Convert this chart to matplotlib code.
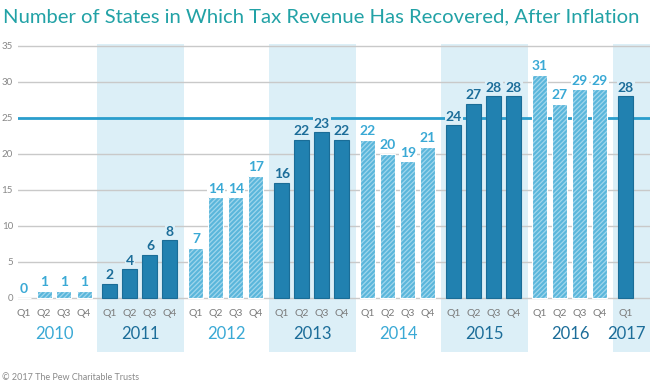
import matplotlib.pyplot as plt

# values
years = ['2010', '2011', '2012', '2013', '2014', '2015', '2016', '2017']
quarters = ['Q1', 'Q2', 'Q3', 'Q4']
values = [
    [0, 1, 1, 1],
    [2, 4, 6, 8],
    [7, 14, 14, 17],
    [16, 22, 23, 22],
    [22, 20, 19, 21],
    [24, 27, 28, 28],
    [31, 27, 29, 29],
    [28],
]
shaded = [False, True, False, True, False, True, False, True]
year_dark = [False, True, False, True, False, True, True, True]
threshold = 25

# colours
band_col = '#dceff7'
dark_bar = '#2181b0'
dark_edge = '#1a6d97'
light_bar = '#5ab6db'
hatch_col = '#9fd6ec'
dark_txt = '#1c6d99'
light_txt = '#3aa9d5'
grid_col = '#c9c9c9'
line_col = '#2a9ecd'

plt.rcParams['font.family'] = ['Lato', 'DejaVu Sans']
plt.rcParams['hatch.linewidth'] = 0.9

fig = plt.figure(figsize=(6.5, 3.84), dpi=100)
ax = fig.add_axes([18 / 650, 1 - 352 / 384, 632 / 650, 308 / 384])
ax.set_xlim(-0.3, 31.3)
ax.set_ylim(-7.5, 35.28)
ax.axis('off')

step = 4.3
for g, yr in enumerate(years):
    x0 = g * step
    if shaded[g]:
        ax.axvspan(x0 - 0.65, min(x0 + 3.7, 31.3), ymin=0, ymax=1,
                   color=band_col, lw=0, zorder=0)

# gridlines and threshold line
for v in range(0, 36, 5):
    ax.axhline(v, color=grid_col, lw=1, zorder=1)
    ax.text(-0.55, v, str(v), ha='right', va='center', fontsize=7,
            color='#888888', clip_on=False)
ax.axhline(threshold, color=line_col, lw=2, zorder=1.5)

for g, yr in enumerate(years):
    x0 = g * step
    dark = shaded[g]
    bg = band_col if shaded[g] else 'white'
    for q, val in enumerate(values[g]):
        x = x0 + q
        if dark:
            ax.bar(x, val, width=0.75, color=dark_bar, edgecolor=dark_edge,
                   lw=0.8, zorder=2)
        else:
            ax.bar(x, val, width=0.75, color=light_bar, edgecolor=hatch_col,
                   hatch='///////', lw=0, zorder=2)
            ax.bar(x, val, width=0.75, fill=False, edgecolor='white',
                   lw=0.8, zorder=2.1)
        ax.text(x, val + 0.35, str(val), ha='center', va='bottom',
                fontsize=10, fontweight='bold',
                color=dark_txt if dark else light_txt, zorder=3,
                bbox=dict(facecolor=bg, edgecolor='none', pad=0.5))
        ax.text(x, -2.1, quarters[q], ha='center', va='center',
                fontsize=7.5, color='#7a7a7a')
    xc = x0 + (len(values[g]) - 1) / 2
    ax.text(xc, -5.0, yr, ha='center', va='center', fontsize=12,
            color=dark_txt if year_dark[g] else light_txt)

fig.text(3 / 650, 1 - 17 / 384,
         'Number of States in Which Tax Revenue Has Recovered, After Inflation',
         ha='left', va='center', fontsize=14.6, color='#22a2a6')
fig.text(2 / 650, 1 - 377 / 384, '\u00a9 2017 The Pew Charitable Trusts',
         ha='left', va='center', fontsize=6.5, color='#8a8a8a')

plt.savefig('out.png', dpi=100)
plt.close()
